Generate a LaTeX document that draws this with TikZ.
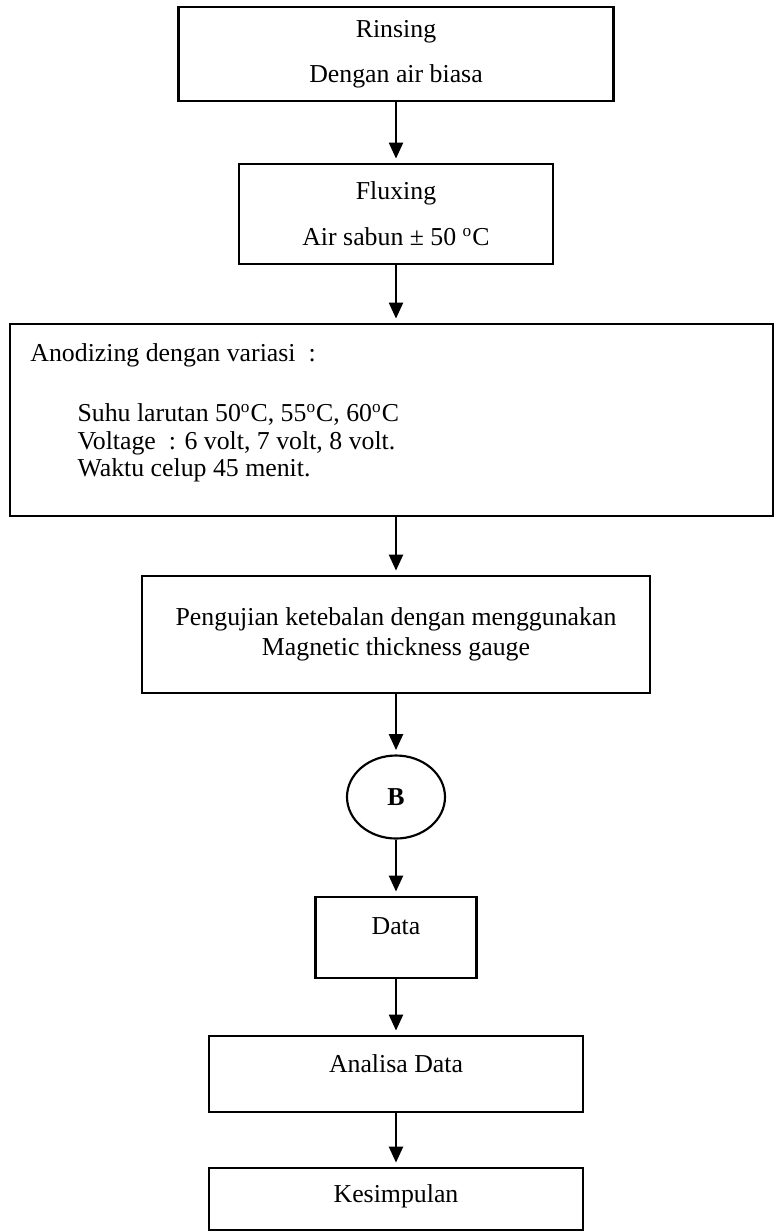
\documentclass[tikz,border=0pt]{standalone}
\usepackage{fontspec}
\setmainfont{Liberation Serif}
\usetikzlibrary{arrows.meta,shapes.geometric}
\newcommand{\pxu}{0.465pt}
\tikzset{
step_box/.style={
	% The shape:
	rectangle,
	% The border:
	draw=black,
	line width=1pt,
	% Font
	font=\fontsize{12pt}{14.5pt}\selectfont,
	align=center
},
conn_circle/.style={
	% The shape:
	ellipse,
	draw=black,
	line width=1pt,
	inner sep=0pt,
	% Font
	font=\fontsize{12pt}{14.5pt}\selectfont\bfseries
},
flow/.style={-{Triangle[width=6.5pt,length=7.5pt]}, line width=1.2pt, shorten >=2pt},
% text sits near the top of the box
top_text/.style={text height=8.5pt, text depth=#1}
}

\begin{document}
\begin{tikzpicture}[x=\pxu, y=-\pxu]
			\useasboundingbox (0,0) rectangle (775,1232);

			\node[step_box, minimum width=435*\pxu, minimum height=94*\pxu] (rinse) at (396,54)
				{Rinsing\\[6.5pt]Dengan air biasa};
			\node[step_box, minimum width=314*\pxu, minimum height=100*\pxu] (flux) at (396,214)
				{Fluxing\\[6.9pt]Air sabun ± 50 \textsuperscript{o}C};

			\node[step_box, minimum width=763*\pxu, minimum height=192*\pxu] (anod) at (391.5,420) {};
			\node[anchor=west, align=left, inner sep=0pt, font=\fontsize{12pt}{12.8pt}\selectfont] (anodtxt) at (30,413)
				{Anodizing dengan variasi\ \ :\\[15.1pt]
				\hspace*{21.9pt}Suhu larutan 50\textsuperscript{o}C, 55\textsuperscript{o}C, 60\textsuperscript{o}C\\
				\hspace*{21.9pt}Voltage\ \ : 6 volt, 7 volt, 8 volt.\\
				\hspace*{21.9pt}Waktu celup 45 menit.};

			\node[step_box, font=\fontsize{12pt}{14pt}\selectfont, minimum width=508*\pxu, minimum height=117*\pxu] (uji) at (396,634.5)
				{Pengujian ketebalan dengan menggunakan\\Magnetic thickness gauge};

			\node[conn_circle, minimum width=98*\pxu, minimum height=83*\pxu] (conB) at (396,797) {B};

			\node[step_box, top_text=11.7pt, minimum width=161*\pxu, minimum height=81*\pxu] (data) at (396,937.5) {Data};
			\node[step_box, top_text=10.3pt, minimum width=374*\pxu, minimum height=76*\pxu] (analisa) at (396,1074) {Analisa Data};
			\node[step_box, top_text=5.7pt, minimum width=374*\pxu, minimum height=62*\pxu] (simpul) at (396,1199) {Kesimpulan};

			\draw[flow] (rinse.south) -- (flux.north);
			\draw[flow] (flux.south) -- (flux.south |- anod.north);
			\draw[flow] (anod.south -| uji.north) -- (uji.north);
			\draw[flow] (uji.south) -- (conB.north);
			\draw[flow] (conB.south) -- (data.north);
			\draw[flow] (data.south) -- (analisa.north);
			\draw[flow] (analisa.south) -- (simpul.north);
		\end{tikzpicture}
\end{document}
